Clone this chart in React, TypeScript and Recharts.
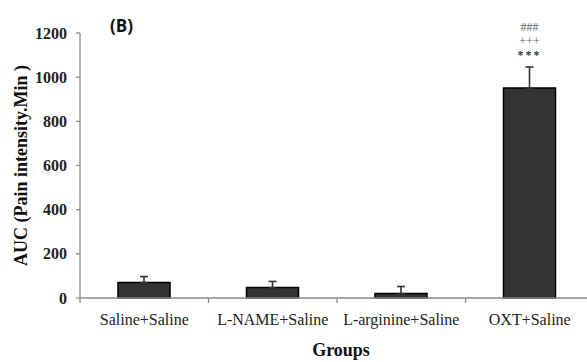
import React from "react";
import {
  BarChart,
  Bar,
  XAxis,
  YAxis,
  ErrorBar,
  LabelList,
} from "recharts";

const groups = ["Saline+Saline", "L-NAME+Saline", "L-arginine+Saline", "OXT+Saline"];
const auc = [70, 47, 20, 951];
const sem = [27, 28, 32, 95];
const marks = ["", "", "", "###|+++|***"];
const yTicks = [0, 200, 400, 600, 800, 1000, 1200];

const data = groups.map((g, i) => ({
  group: g,
  auc: auc[i],
  err: [0, sem[i]],
  marks: marks[i],
}));

const AXIS = "#8a8a8a";
const SERIF = "Liberation Serif, serif";
const BAND = (594 - 80) / 4;

const GroupTick = (props: any) => {
  const { x, y, payload } = props;
  return (
    <g>
      <line x1={x - BAND / 2} y1={y} x2={x - BAND / 2} y2={y + 5} stroke={AXIS} strokeWidth={1.3} />
      <text x={x} y={y + 27} textAnchor="middle" style={{ fontFamily: SERIF, fontSize: 16 }} fill="#222">
        {payload.value}
      </text>
    </g>
  );
};

const ValueTick = (props: any) => {
  const { x, y, payload } = props;
  return (
    <text
      x={x}
      y={y}
      textAnchor="end"
      dominantBaseline="central"
      style={{ fontFamily: SERIF, fontWeight: "bold", fontSize: 16 }}
      fill="#222"
    >
      {payload.value}
    </text>
  );
};

const Marks = (props: any) => {
  const { x, y, width, value } = props;
  if (!value) return null;
  const lines = String(value).split("|");
  const cx = x + width / 2;
  return (
    <g>
      {lines.map((s, i) => (
        <text
          key={i}
          x={cx}
          y={y - 57 + i * 14}
          textAnchor="middle"
          style={{
            fontFamily: SERIF,
            fontSize: 12,
            fontWeight: i === 2 ? "bold" : "normal",
            letterSpacing: i === 2 ? 2 : 0,
          }}
          fill={i === 2 ? "#333" : "#666"}
        >
          {s}
        </text>
      ))}
    </g>
  );
};

const YLabel = (props: any) => {
  const { viewBox } = props;
  const cy = viewBox.y + viewBox.height / 2;
  return (
    <text
      x={21}
      y={cy}
      transform={`rotate(-90, 21, ${cy})`}
      textAnchor="middle"
      dominantBaseline="central"
      style={{ fontFamily: SERIF, fontWeight: "bold", fontSize: 18 }}
      fill="#111"
    >
      AUC (Pain intensity.Min )
    </text>
  );
};

const XLabel = (props: any) => {
  const { viewBox } = props;
  return (
    <text
      x={viewBox.x + viewBox.width / 2 + 4}
      y={356}
      textAnchor="middle"
      style={{ fontFamily: SERIF, fontWeight: "bold", fontSize: 18 }}
      fill="#111"
    >
      Groups
    </text>
  );
};

export default function App() {
  return (
    <div
      style={{
        position: "absolute",
        left: 0,
        top: 0,
        width: 587,
        height: 362,
        overflow: "hidden",
        background: "#fff",
      }}
    >
      <div
        style={{
          position: "absolute",
          left: 110,
          top: 14,
          fontFamily: "'Open Sans', sans-serif",
          fontWeight: 700,
          fontSize: 17,
          color: "#111",
        }}
      >
        (B)
      </div>
      <BarChart width={600} height={362} data={data} margin={{ top: 33, right: 6, left: 30, bottom: 34 }}>
        <XAxis
          dataKey="group"
          stroke={AXIS}
          strokeWidth={1.3}
          tickLine={false}
          tickSize={0}
          tickMargin={0}
          height={30}
          tick={<GroupTick />}
          interval={0}
          label={<XLabel />}
        />
        <YAxis
          domain={[0, 1200]}
          ticks={yTicks}
          width={50}
          stroke={AXIS}
          strokeWidth={1.3}
          tickSize={4}
          tickMargin={9}
          tick={<ValueTick />}
          label={<YLabel />}
        />
        <Bar dataKey="auc" fill="#333" stroke="#000" strokeWidth={1.5} barSize={52} isAnimationActive={false}>
          <ErrorBar dataKey="err" width={4} stroke="#333" strokeWidth={1.6} direction="y" />
          <LabelList dataKey="marks" content={<Marks />} />
        </Bar>
      </BarChart>
    </div>
  );
}
